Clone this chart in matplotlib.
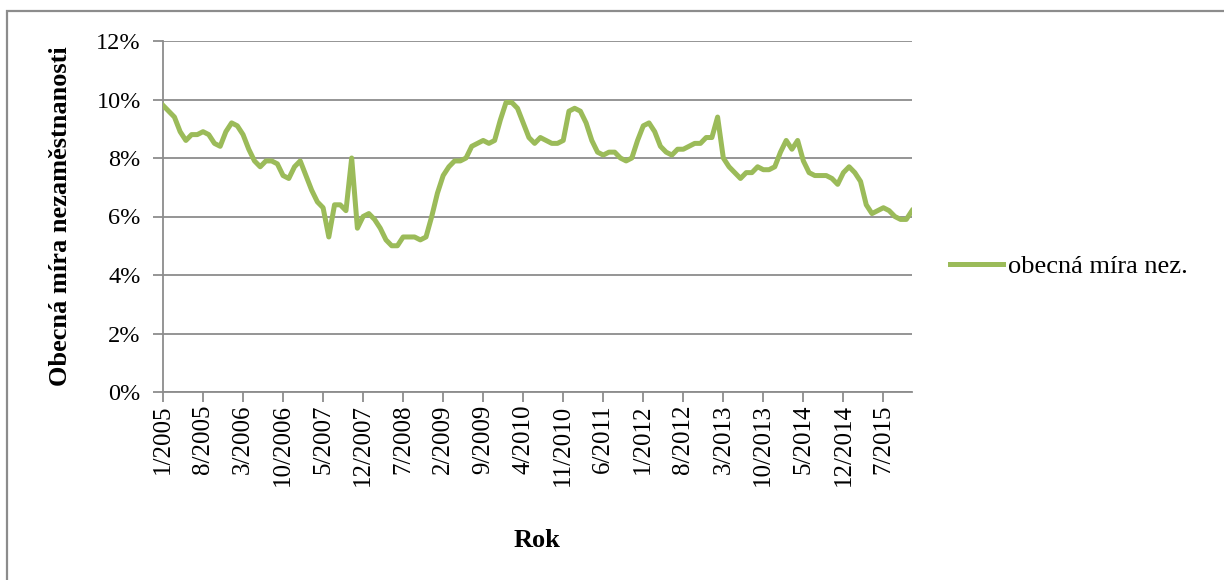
import matplotlib.pyplot as plt
from matplotlib.lines import Line2D
from matplotlib.patches import Rectangle

plt.rcParams['font.family'] = ['Liberation Serif', 'DejaVu Serif']

start_year = 2005
rate = [9.8, 9.6, 9.4, 8.9, 8.6, 8.8, 8.8, 8.9, 8.8, 8.5, 8.4, 8.9,
        9.2, 9.1, 8.8, 8.3, 7.9, 7.7, 7.9, 7.9, 7.8, 7.4, 7.3, 7.7,
        7.9, 7.4, 6.9, 6.5, 6.3, 5.3, 6.4, 6.4, 6.2, 8.0, 5.6, 6.0,
        6.1, 5.9, 5.6, 5.2, 5.0, 5.0, 5.3, 5.3, 5.3, 5.2, 5.3, 6.0,
        6.8, 7.4, 7.7, 7.9, 7.9, 8.0, 8.4, 8.5, 8.6, 8.5, 8.6, 9.3,
        9.9, 9.9, 9.7, 9.2, 8.7, 8.5, 8.7, 8.6, 8.5, 8.5, 8.6, 9.6,
        9.7, 9.6, 9.2, 8.6, 8.2, 8.1, 8.2, 8.2, 8.0, 7.9, 8.0, 8.6,
        9.1, 9.2, 8.9, 8.4, 8.2, 8.1, 8.3, 8.3, 8.4, 8.5, 8.5, 8.7,
        8.7, 9.4, 8.0, 7.7, 7.5, 7.3, 7.5, 7.5, 7.7, 7.6, 7.6, 7.7,
        8.2, 8.6, 8.3, 8.6, 7.9, 7.5, 7.4, 7.4, 7.4, 7.3, 7.1, 7.5,
        7.7, 7.5, 7.2, 6.4, 6.1, 6.2, 6.3, 6.2, 6.0, 5.9, 5.9, 6.2]

labels = [f"{i % 12 + 1}/{start_year + i // 12}" for i in range(len(rate))]
tick_idx = list(range(0, len(rate), 7))

fig = plt.figure(figsize=(12.24, 5.8), dpi=100)
fig.patches.append(Rectangle((7 / 1224, -0.1), 1.2, 1 - 11 / 580 + 0.1,
                             transform=fig.transFigure, fill=False,
                             edgecolor='#8c8c8c', linewidth=1.6))

ax = fig.add_axes([163 / 1224, 1 - 392 / 580, (912 - 163) / 1224, (392 - 41) / 580])
ax.plot(range(len(rate)), rate, color='#9BBB59', linewidth=3.6,
        solid_joinstyle='round', zorder=3)

ax.set_xlim(0, len(rate) - 1)
ax.set_ylim(0, 12)
ax.set_yticks(range(0, 13, 2))
ax.set_yticklabels([f"{v}%" for v in range(0, 13, 2)], fontsize=17.5)
ax.set_xticks(tick_idx)
ax.set_xticklabels([labels[i] for i in tick_idx], rotation=90, fontsize=18)

ax.grid(axis='y', color='#8c8c8c', linewidth=1.3)
ax.set_axisbelow(True)
for s in ['top', 'right']:
    ax.spines[s].set_visible(False)
ax.spines['left'].set_color('#8c8c8c')
ax.spines['left'].set_linewidth(1.3)
ax.spines['bottom'].set_color('#8c8c8c')
ax.spines['bottom'].set_linewidth(1.3)
ax.tick_params(axis='both', direction='out', length=7, color='#8c8c8c', width=1.3)
ax.tick_params(axis='y', pad=9)
ax.tick_params(axis='x', pad=2)

ax.set_ylabel('Obecná míra nezaměstnanosti', fontsize=19, fontweight='bold', va='center')
ax.yaxis.set_label_coords(-0.137, 0.5)
ax.set_xlabel('Rok', fontsize=19, fontweight='bold', va='center')
ax.xaxis.set_label_coords(0.5, -0.4245)

handle = Line2D([], [], color='#9BBB59', linewidth=3.6)
fig.legend([handle], ['obecná míra nez.'], loc='center left',
           bbox_to_anchor=(926 / 1224, 1 - 266 / 580), frameon=False,
           fontsize=19, handlelength=2.0, handletextpad=0.2)

fig.savefig('out.png', dpi=100)
